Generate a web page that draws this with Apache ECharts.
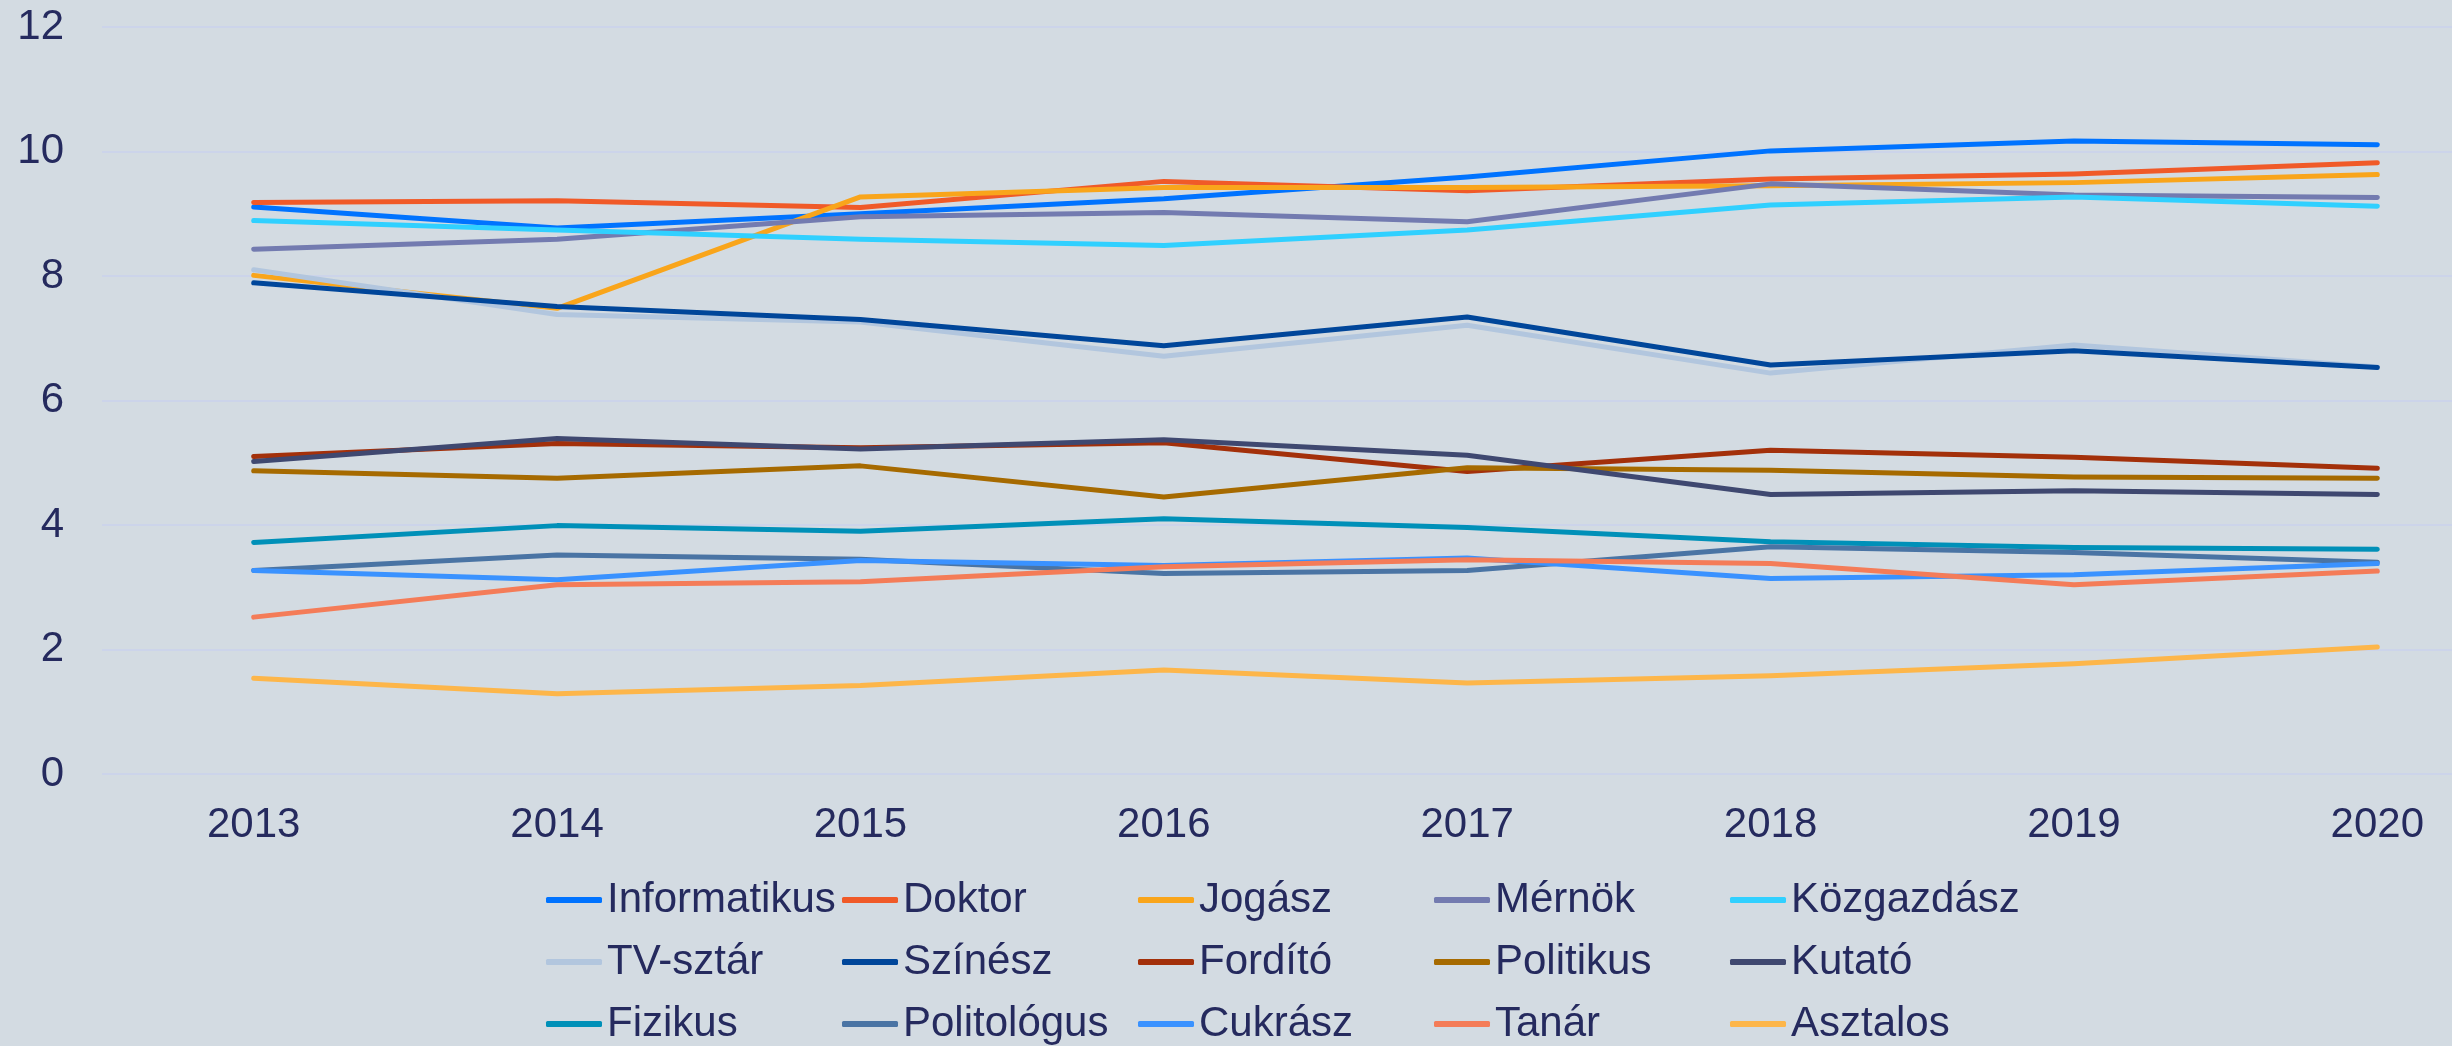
<!DOCTYPE html>
<html>
<head>
<meta charset="utf-8">
<title>Foglalkozások</title>
<script src="https://cdn.jsdelivr.net/npm/echarts@6/dist/echarts.min.js"></script>
<style>
  html, body { margin: 0; padding: 0; background: #d3dbe2; }
  #chart { width: 2452px; height: 1046px; }
</style>
</head>
<body>
<div id="chart"></div>
<script>
// évek
const years = ['2013', '2014', '2015', '2016', '2017', '2018', '2019', '2020'];

// sorozatok
const informatikus = [9.11, 8.77, 9.00, 9.24, 9.59, 10.01, 10.17, 10.11];
const doktor = [9.18, 9.21, 9.10, 9.52, 9.37, 9.56, 9.64, 9.82];
const jogasz = [8.01, 7.48, 9.27, 9.42, 9.42, 9.45, 9.50, 9.63];
const mernok = [8.43, 8.59, 8.95, 9.02, 8.87, 9.48, 9.30, 9.26];
const kozgazdasz = [8.89, 8.74, 8.59, 8.49, 8.74, 9.14, 9.27, 9.12];
const tvSztar = [8.10, 7.38, 7.26, 6.71, 7.21, 6.44, 6.89, 6.54];
const szinesz = [7.89, 7.51, 7.30, 6.88, 7.34, 6.57, 6.80, 6.53];
const fordito = [5.10, 5.31, 5.24, 5.32, 4.86, 5.20, 5.09, 4.91];
const politikus = [4.87, 4.75, 4.95, 4.45, 4.92, 4.88, 4.77, 4.75];
const kutato = [5.02, 5.39, 5.22, 5.37, 5.12, 4.49, 4.55, 4.49];
const fizikus = [3.72, 3.99, 3.90, 4.10, 3.96, 3.73, 3.64, 3.61];
const politologus = [3.27, 3.52, 3.45, 3.22, 3.27, 3.65, 3.56, 3.40];
const cukrasz = [3.27, 3.12, 3.43, 3.35, 3.47, 3.14, 3.20, 3.38];
const tanar = [2.52, 3.04, 3.09, 3.33, 3.44, 3.38, 3.04, 3.26];
const asztalos = [1.54, 1.29, 1.42, 1.67, 1.46, 1.58, 1.77, 2.04];

const names = ['Informatikus', 'Doktor', 'Jogász', 'Mérnök', 'Közgazdász',
  'TV-sztár', 'Színész', 'Fordító', 'Politikus', 'Kutató',
  'Fizikus', 'Politológus', 'Cukrász', 'Tanár', 'Asztalos'];
const values = [informatikus, doktor, jogasz, mernok, kozgazdasz,
  tvSztar, szinesz, fordito, politikus, kutato,
  fizikus, politologus, cukrasz, tanar, asztalos];
const colors = ['#0073ff', '#f05a28', '#f9a51b', '#737bb0', '#30d0ff',
  '#b2c6de', '#00469a', '#a3300a', '#a66a00', '#3f4870',
  '#0090b8', '#4a74a4', '#3a92ff', '#f47c58', '#fdb64a'];

const textColor = '#252a5e';
const font = '"Liberation Sans", Arial, sans-serif';

const chart = echarts.init(document.getElementById('chart'));

chart.setOption({
  backgroundColor: '#d3dbe2',
  animation: false,
  color: colors,
  // a rajzterület jobbra kilóg a képből, mint az eredetin
  grid: {
    left: 102, width: 2427, top: 27, bottom: 272,
    containLabel: false, outerBoundsMode: 'none',
  },
  legend: {
    data: names,
    left: 546,
    top: 869,
    width: 1490,
    padding: 0,
    itemGap: 0,
    itemWidth: 56,
    itemHeight: 6,
    icon: 'roundRect',
    textStyle: {
      color: textColor,
      fontFamily: font,
      fontSize: 42,
      width: 235,
      lineHeight: 62,
    },
  },
  xAxis: {
    type: 'category',
    data: years,
    boundaryGap: true,
    axisLine: { show: false },
    axisTick: { show: false },
    axisLabel: { color: textColor, fontFamily: font, fontSize: 42, margin: 30 },
  },
  yAxis: {
    type: 'value',
    min: 0,
    max: 12,
    interval: 2,
    axisLine: { show: false },
    axisTick: { show: false },
    axisLabel: { color: textColor, fontFamily: font, fontSize: 42, margin: 38 },
    splitLine: { lineStyle: { color: '#ccd4ea', width: 2 } },
  },
  series: names.map((name, i) => ({
    name: name,
    type: 'line',
    data: values[i],
    showSymbol: false,
    lineStyle: { width: 5, cap: 'round', join: 'round' },
  })),
});
</script>
</body>
</html>
